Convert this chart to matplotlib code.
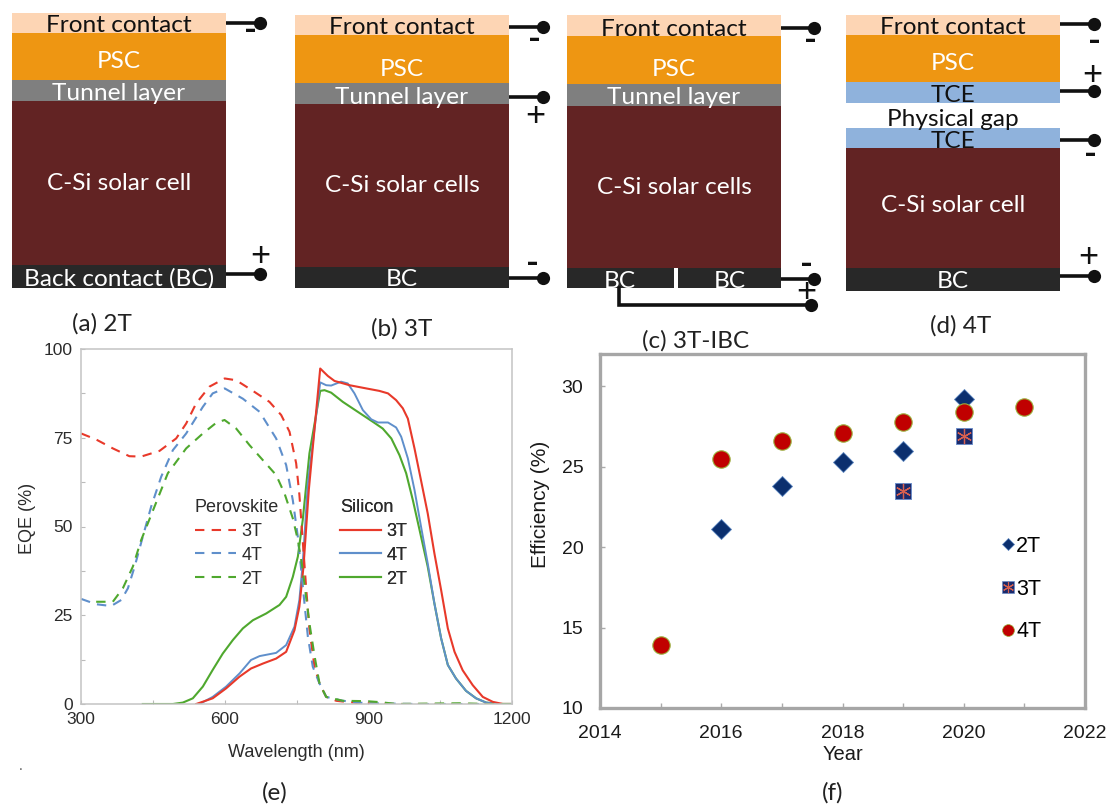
import matplotlib
matplotlib.use("Agg")
import matplotlib.pyplot as plt
from matplotlib.patches import Rectangle
from matplotlib.lines import Line2D
from matplotlib.legend_handler import HandlerTuple
from matplotlib.ticker import MultipleLocator

# ---------- EQE data (panel e) ----------
si3_x = [540.5,575,603,631,655,680,707.5,728.4,745.8,756,764.6,775.7,799.5,815.5,829.4,860.7,895.5,923,941,958,972,982.5,996.4,1010,1024,1038,1052,1066,1080,1097,1118,1139,1160,1181,1200]
si3_y = [0,1.6,4.4,7.7,10,11.4,12.8,14.7,20.8,27.4,38.7,60.3,94.5,92.4,91,89.8,88.9,88.2,87.5,85.6,83.3,80.4,72,63,53.7,42.4,32.1,21.3,14.7,9.5,5.3,2,0.6,0,0]
si4_x = [547.5,575,603,631,655,673,707.5,728.4,745.8,756,763,773.6,799.5,812,822.4,843,857,871,888.5,906,920,941,958,968.6,982.5,996.4,1010,1024,1038,1052,1066,1083,1104,1125,1146,1174,1200]
si4_y = [0,2,4.9,8.6,12.4,13.5,14.4,16.6,21.8,29.3,39.6,62,90.6,89.8,89.7,90.8,90.3,87.5,82.8,80.2,79.3,79.3,77.9,75.3,69.2,60.3,50,39.6,28.3,18.5,11,7.2,3.7,1.6,0.4,0,0]
si2_x = [429,492,512.7,533.5,554.4,575,596,617,638,659,686.7,714.5,728.4,742.3,752.8,763,777,799.5,808.5,822.4,846.8,878,909.4,930,948,965,979,993,1007,1024,1038,1052,1066,1083,1104,1125,1146,1174,1200]
si2_y = [0,0,0.4,1.6,4.9,9.6,14.2,18,21.3,23.6,25.5,27.9,30.2,35.8,41.5,51.8,70.6,88.2,88.4,87.7,85.1,82.3,79.5,77.6,74.8,70.1,65,57.4,49,38.7,28.3,18.5,11,7.2,3.7,1.6,0.4,0,0]
pv3_x = [300.4,331.7,366.5,401,425.7,464,498.7,519.6,540.5,568.3,600,624,659,693.6,718,735.4,749.3,756,763,770,777,787.6,798,812,833,882,965,1200]
pv3_y = [76.2,74.5,72,69.8,69.7,71.3,74.8,79,84.7,89.4,91.7,91.2,88.2,85.1,81.4,76.7,67.8,59,46,33,21,10.5,5.8,2,0.9,0.2,0,0]
pv4_x = [300.4,331.7,363,384,398,412,429,446.5,467.4,491.8,519.6,554.4,575,600,638,673,707.5,728.4,742.3,752.8,760,766.7,773.7,784,798,812,847,896,1000,1200]
pv4_y = [29.6,28.1,27.6,29.3,32.6,38.7,47.1,55.6,64,71.5,76.2,83.7,87.5,88.9,86,82.3,74.8,67.3,57.4,47.1,37.5,28.3,19,10.5,5.8,2,0.9,0.2,0,0]
pv2_x = [331.7,366.5,387.4,408.3,425.7,453.5,481.3,519.6,554.4,582.3,599.7,624,652,679.7,707.5,725,742.3,752.8,762,777,788,798,812,847,896,927,958,1090,1146,1200]
pv2_y = [28.8,28.8,32.6,38.7,46.2,55.6,65,72,76.2,79.2,80,77.6,72.9,68.7,64.5,59.3,52.3,46.2,38.7,22.7,13.3,5.8,2,0.9,0.8,0.5,0,0.2,0,0]

# ---------- Efficiency data (panel f) ----------
years_2t = [2016, 2017, 2018, 2019, 2020]
eff_2t = [21.1, 23.8, 25.3, 26.0, 29.2]
years_3t = [2019, 2020]
eff_3t = [23.5, 26.9]
years_4t = [2015, 2016, 2017, 2018, 2019, 2020, 2021]
eff_4t = [13.9, 25.5, 26.6, 27.1, 27.8, 28.4, 28.7]

# ---------- Device stacks (panels a-d) ----------
FRONT, PSC, TUNNEL, SI, BC, TCE = "#FDD5B4", "#EE9612", "#7F7F7F", "#622323", "#282828", "#8FB2DC"
panel_a = [(13,33,FRONT,"Front contact","#111111",26),(33,80,PSC,"PSC","white",62),(80,101,TUNNEL,"Tunnel layer","white",93),
           (101,265,SI,"C-Si solar cell","white",184),(265,288,BC,"Back contact (BC)","white",279)]
panel_b = [(15,35,FRONT,"Front contact","#111111",28),(35,83,PSC,"PSC","white",69),(83,104,TUNNEL,"Tunnel layer","white",97),
           (104,267,SI,"C-Si solar cells","white",186),(267,288,BC,"BC","white",280)]
panel_c = [(15,36,FRONT,"Front contact","#111111",29),(36,84,PSC,"PSC","white",70),(84,106,TUNNEL,"Tunnel layer","white",98),
           (106,268,SI,"C-Si solar cells","white",187)]
panel_d = [(15,35,FRONT,"Front contact","#111111",28),(35,82,PSC,"PSC","white",64),(82,103,TCE,"TCE","#111111",95),
           (128,148,TCE,"TCE","#111111",141),(148,268,SI,"C-Si solar cell","white",206),(268,291,BC,"BC","white",282)]
stacks = [(12,226,panel_a),(295,509,panel_b),(567,781,panel_c),(846,1060,panel_d)]
wires = [(226,260,23),(226,260,274),(509,543,27),(509,543,97),(509,543,278),(781,814,28),(781,814,279),
         (1060,1094,24),(1060,1094,91),(1060,1094,140),(1060,1094,276)]
signs = [("-",251,31),("+",260,256),("-",534,40),("+",535,116),("-",533,264),("-",810,41),("-",806,265),("+",806,292),
         ("-",1094,42),("+",1092,75),("-",1091,155),("+",1088,257)]
captions = [("(a) 2T",102,324),("(b) 3T",402,329),("(c) 3T-IBC",696,341),("(d) 4T",961,326),("(e)",275,793),("(f)",833,793)]

W, H = 1109, 806
fig = plt.figure(figsize=(W/100, H/100), dpi=100, facecolor="white")
SANS = "Liberation Sans"
CAL = "Lato"
TXT = "#2b2b2b"

def axpix(l, t, r, b):
    return fig.add_axes([l/W, 1-b/H, (r-l)/W, (b-t)/H])

# Panel e
ax = axpix(81, 349, 512, 704)
RED, BLUE, GREEN = "#E8392A", "#5F8FCB", "#4FA82E"
dash = (0, (4.5, 3.5))
ax.plot(si2_x, si2_y, color=GREEN, lw=1.5, label="2T")
ax.plot(si4_x, si4_y, color=BLUE, lw=1.4, label="4T")
ax.plot(si3_x, si3_y, color=RED, lw=1.5, label="3T")
ax.plot(pv3_x, pv3_y, color=RED, lw=1.5, ls=dash)
ax.plot(pv4_x, pv4_y, color=BLUE, lw=1.5, ls=dash)
ax.plot(pv2_x, pv2_y, color=GREEN, lw=1.5, ls=dash)
ax.set_xlim(300, 1200); ax.set_ylim(0, 100)
ax.set_xticks([300,600,900,1200]); ax.set_yticks([0,25,50,75,100])
ax.xaxis.set_minor_locator(MultipleLocator(150)); ax.yaxis.set_minor_locator(MultipleLocator(12.5))
ax.tick_params(which="both", direction="in", length=3, width=0.8, color="#BBBBBB", labelsize=12.5, labelcolor=TXT, pad=6)
for s in ax.spines.values():
    s.set_color("#C4C4C4"); s.set_linewidth(1.1)
for t in ax.get_xticklabels()+ax.get_yticklabels():
    t.set_fontfamily(SANS)
ax.set_xlabel("Wavelength (nm)", fontsize=13, family=SANS, color=TXT)
ax.set_ylabel("EQE (%)", fontsize=13, family=SANS, color=TXT)
ax.xaxis.set_label_coords(0.5, -0.112)
ax.yaxis.set_label_coords(-0.105, 0.524)

def eqe_legend(title, dashed, anchor):
    ls = dash if dashed else "-"
    hs = [Line2D([],[],color=c,lw=1.5,ls=ls) for c in (RED,BLUE,GREEN)]
    lg = ax.legend(hs, ["3T","4T","2T"], title=title, frameon=False, loc="upper left", bbox_to_anchor=anchor,
                   bbox_transform=fig.transFigure, alignment="left", handlelength=2.27, handletextpad=0.3,
                   labelspacing=0.38, borderpad=0, borderaxespad=0,
                   prop={"family":SANS,"size":13}, title_fontproperties={"family":SANS,"size":13})
    for t in lg.get_texts(): t.set_color(TXT)
    lg.get_title().set_color(TXT)
    ax.add_artist(lg)
eqe_legend("Perovskite", True, (195/W, 1-499/H))
eqe_legend("Silicon", False, (340/W, 1-499/H))

# Panel f
af = axpix(600, 354, 1085, 708)
NAVY, EDGE = "#0B2F6E", "#5C86C0"
af.plot(years_2t, eff_2t, ls="", marker="D", ms=10.5, mfc=NAVY, mec=EDGE, mew=0.6, zorder=3)
af.plot(years_3t, eff_3t, ls="", marker="s", ms=12, mfc="#1B2A6B", mec="#6C8CC8", mew=0.7, zorder=3)
af.plot(years_3t, eff_3t, ls="", marker=(6,2,0), ms=11, mec="#D8604F", mew=0.9, zorder=4)
af.plot(years_4t, eff_4t, ls="", marker="o", ms=12.5, mfc="#C00000", mec="#9AAE3A", mew=0.8, zorder=5)
af.set_xlim(2014, 2022); af.set_ylim(10, 32)
af.set_xticks([2014,2016,2018,2020,2022]); af.set_yticks([10,15,20,25,30])
af.xaxis.set_minor_locator(MultipleLocator(1))
af.tick_params(which="both", direction="in", length=3.5, width=1, color="#AAAAAA", labelsize=14, labelcolor="#1a1a1a")
af.tick_params(axis="x", pad=12)
af.tick_params(axis="y", pad=12)
for s in af.spines.values():
    s.set_color("#A6A6A6"); s.set_linewidth(2.4)
for t in af.get_xticklabels()+af.get_yticklabels():
    t.set_fontfamily(SANS)
af.set_xlabel("Year", fontsize=14.5, family=SANS, color="#1a1a1a")
af.set_ylabel("Efficiency (%)", fontsize=15, family=SANS, color="#1a1a1a")
af.xaxis.set_label_coords(0.5, -0.105)
af.yaxis.set_label_coords(-0.104, 0.576)
h2 = Line2D([],[],ls="",marker="D",ms=6.5,mfc=NAVY,mec=EDGE,mew=0.5)
h3 = (Line2D([],[],ls="",marker="s",ms=9,mfc="#1B2A6B",mec="#6C8CC8",mew=0.5),
      Line2D([],[],ls="",marker=(6,2,0),ms=8,mec="#D8604F",mew=0.8))
h4 = Line2D([],[],ls="",marker="o",ms=8.5,mfc="#C00000",mec="#9AAE3A",mew=0.5)
lgf = af.legend([h2,h3,h4],["2T","3T","4T"],frameon=False,loc="upper left",bbox_to_anchor=(1000/W,1-536/H),
                bbox_transform=fig.transFigure,handlelength=0.75,handletextpad=0.0,labelspacing=1.0,borderpad=0,borderaxespad=0,
                prop={"family":SANS,"size":15.5},handler_map={tuple:HandlerTuple(ndivide=1,pad=0)})

# Pixel overlay for diagrams
ov = fig.add_axes([0,0,1,1], zorder=-1)
ov.set_xlim(0, W); ov.set_ylim(H, 0); ov.axis("off")
FS = 17.6
for x0, x1, layers in stacks:
    for top, bot, col, label, tc, ty in layers:
        ov.add_patch(Rectangle((x0, top), x1-x0, bot-top, fc=col, ec="none"))
for x0, x1, layers in stacks:
    for top, bot, col, label, tc, ty in layers:
        ov.text((x0+x1)/2, ty, label, ha="center", va="center", color=tc, fontsize=FS, family=CAL, zorder=5)
ov.text(953, 120, "Physical gap", ha="center", va="center", color="#111111", fontsize=FS, family=CAL, zorder=5)
# Panel c split back contact
ov.add_patch(Rectangle((567,268),107,20,fc=BC,ec="none"))
ov.add_patch(Rectangle((678,268),103,20,fc=BC,ec="none"))
ov.text(620,281,"BC",ha="center",va="center",color="white",fontsize=FS,family=CAL,zorder=5)
ov.text(730,281,"BC",ha="center",va="center",color="white",fontsize=FS,family=CAL,zorder=5)
for a, b, y in wires:
    ov.plot([a,b],[y,y],color="#111111",lw=2.6,solid_capstyle="butt")
    ov.plot([b],[y],marker="o",ms=9.5,color="#111111",mew=0)
ov.plot([619,619,811],[288,305,305],color="#111111",lw=2.6,solid_joinstyle="miter")
ov.plot([811],[305],marker="o",ms=9.5,color="#111111",mew=0)
for s, x, y in signs:
    ov.text(x,y,s,ha="center",va="center",color="#111111",fontsize=25,family=CAL,fontweight="bold" if s=="-" else "normal")
for s, x, y in captions:
    ov.text(x,y,s,ha="center",va="center",color="#222222",fontsize=17.5,family=CAL)
ov.text(21,766,".",ha="center",va="center",color="#555555",fontsize=10,family=SANS)

fig.savefig("out.png", dpi=100, facecolor="white")
